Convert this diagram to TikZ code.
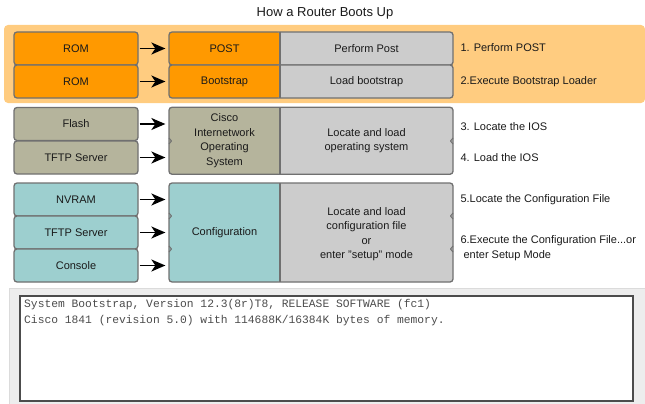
\documentclass[tikz,border=0pt]{standalone}
\usepackage{fontspec}
\setmainfont{Liberation Sans}
\setmonofont{Liberation Mono}
\usetikzlibrary{arrows.meta,positioning}
\definecolor{BootOrange}{HTML}{FF9900}
\definecolor{BootPeach}{HTML}{FFCC80}
\definecolor{BootOlive}{HTML}{B5B49C}
\definecolor{BootTeal}{HTML}{9DCFCF}
\definecolor{BootGrey}{HTML}{CCCCCC}
\definecolor{BootEdge}{HTML}{707070}
\definecolor{BootInk}{HTML}{1A1A1A}
\tikzset{
  srcbox/.style={draw=BootEdge, line width=1.3pt, rounded corners=3pt, fill=#1, minimum width=124pt, minimum height=33pt, inner sep=0pt},
  stagebox/.style 2 args={draw=BootEdge, line width=1.3pt, rounded corners=3pt, fill=BootGrey, minimum width=284pt, minimum height=#2, inner sep=0pt,
    path picture={\fill[#1] (path picture bounding box.north west) rectangle ([xshift=111pt]path picture bounding box.south west);
      \draw[BootEdge, line width=1.3pt] ([xshift=111pt]path picture bounding box.north west) -- ([xshift=111pt]path picture bounding box.south west);}},
  feed/.style={-{Stealth[length=14pt,width=12pt,inset=4pt]}, line width=1.5pt, black, shorten >=3pt, shorten <=1pt},
  notch/.style={draw=BootEdge, line width=1pt, line join=round}
}

\begin{document}
\begin{tikzpicture}[x=1pt, y=-1pt, every node/.style={font=\fontsize{11}{14.5}\selectfont, text=BootInk}]
\useasboundingbox (0,0) rectangle (645,404);
\node (title) at (325,13) {\fontsize{13}{15}\selectfont How a Router Boots Up};
% startup band
\fill[BootPeach, rounded corners=4pt] (4,25) rectangle (645,103);
\foreach \name/\label/\y in {rom1/ROM/48.5,rom2/ROM/81.5}{
  \node[srcbox=BootOrange] (\name) at (76,\y) {\label};
}
\foreach \name/\y in {post/48.5,boot/81.5}{
  \node[stagebox={BootOrange}{33pt}] (\name) at (311,\y) {};
}
\node at (224.5,48.5) {POST};
\node at (366.5,48.5) {Perform Post};
\node at (224.5,81.5) {Bootstrap};
\node at (366.5,81.5) {Load bootstrap};
% operating system
\foreach \name/\label/\y in {flash/Flash/124,tftpa/TFTP Server/157.5}{
  \node[srcbox=BootOlive] (\name) at (76,\y) {\label};
}
\node[stagebox={BootOlive}{67pt}] (ios) at (311,140.75) {};
\node[align=center] at (224.5,140.75) {Cisco\\Internetwork\\Operating\\System};
\node[align=center] at (366.5,140.75) {Locate and load\\operating system};
% configuration
\foreach \name/\label/\y in {nvram/NVRAM/199.5,tftpb/TFTP Server/232.5,cons/Console/265.5}{
  \node[srcbox=BootTeal] (\name) at (76,\y) {\label};
}
\node[stagebox={BootTeal}{99pt}] (conf) at (311,232.5) {};
\node at (224.5,232.5) {Configuration};
\node[align=center] at (366.5,234) {Locate and load\\configuration file\\or\\enter "setup" mode};
% small notches where rows meet
\foreach \y in {141,216,249}{
  \draw[notch] (453,\y-3) -- (450.5,\y) -- (453,\y+3);
  \draw[notch] (169,\y-3) -- (171.5,\y) -- (169,\y+3);
}
\draw[feed] (rom1) -- (post.west |- rom1);
\draw[feed] (rom2) -- (boot.west |- rom2);
\draw[feed] (flash) -- (ios.west |- flash);
\draw[feed] (tftpa) -- (ios.west |- tftpa);
\draw[feed] (nvram) -- (conf.west |- nvram);
\draw[feed] (tftpb) -- (conf.west |- tftpb);
\draw[feed] (cons) -- (conf.west |- cons);
% steps
\node[anchor=west] (s1) at (457,48) {1. Perform POST};
\node[anchor=west] (s2) at (457,82) {2.Execute Bootstrap Loader};
\node[anchor=west] (s3) at (457,127) {3. Locate the IOS};
\node[anchor=west] (s4) at (457,158) {4. Load the IOS};
\node[anchor=west] (s5) at (457,200) {5.Locate the Configuration File};
\node[anchor=west, align=left] (s6) at (457,248) {6.Execute the Configuration File...or\\\ enter Setup Mode};
% console output
\node[draw=BootGrey!70, fill=black!7, minimum width=636pt, minimum height=116pt, inner sep=0pt] (outbox) at (327,346) {};
\node[draw=black!70, line width=1.2pt, fill=white, minimum width=613pt, minimum height=105pt, inner sep=0pt] (screen) at (326.5,348.5) {};
\node[anchor=north west, align=left, inner sep=0pt, text=black!70, font=\ttfamily\fontsize{11.3}{16}\selectfont] (log) at (24,299.5) {System Bootstrap, Version 12.3(8r)T8, RELEASE SOFTWARE (fc1)\\Cisco 1841 (revision 5.0) with 114688K/16384K bytes of memory.};
\end{tikzpicture}
\end{document}
